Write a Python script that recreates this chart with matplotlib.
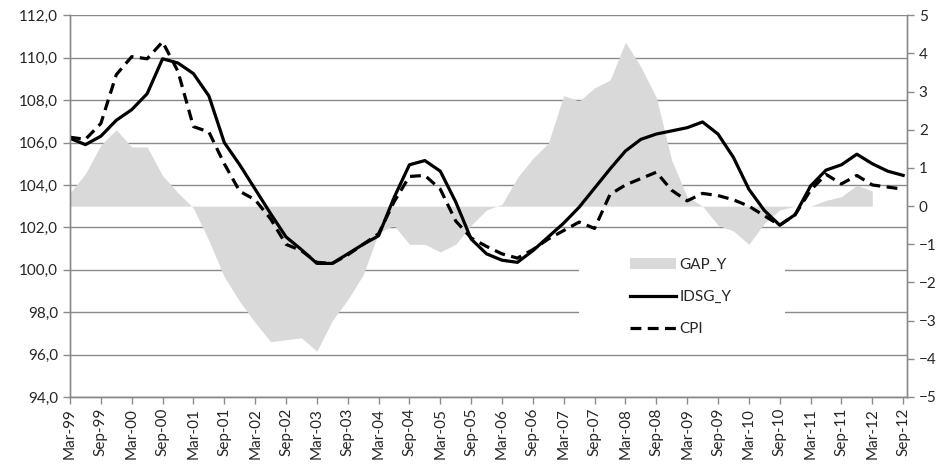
import numpy as np
import matplotlib
matplotlib.use("Agg")
import matplotlib.pyplot as plt
from matplotlib.patches import Rectangle
from matplotlib.ticker import FuncFormatter

# quarterly data, Mar-99 .. Sep-12
idsg_y = [106.2, 105.9, 106.3, 107.05, 107.55, 108.3, 109.95, 109.75, 109.25, 108.2,
          106.0, 104.95, 103.8, 102.65, 101.55, 100.95, 100.3, 100.3, 100.75, 101.2,
          101.6, 103.4, 104.95, 105.15, 104.65, 103.2, 101.45, 100.75, 100.45, 100.35,
          100.9, 101.55, 102.2, 102.95, 103.85, 104.75, 105.6, 106.15, 106.4, 106.55,
          106.7, 106.97, 106.4, 105.3, 103.8, 102.8, 102.1, 102.6, 103.95, 104.7,
          104.95, 105.45, 105.0, 104.65, 104.45]
cpi = [106.25, 106.15, 106.9, 109.2, 110.05, 109.95, 110.75, 109.35, 106.75, 106.5,
       105.0, 103.7, 103.3, 102.4, 101.2, 100.9, 100.35, 100.3, 100.7, 101.2,
       101.7, 103.2, 104.4, 104.45, 103.8, 102.3, 101.5, 101.1, 100.75, 100.55,
       100.95, 101.45, 101.85, 102.25, 101.95, 103.55, 104.0, 104.3, 104.6, 103.75,
       103.25, 103.6, 103.5, 103.3, 103.0, 102.55, 102.1, 102.6, 103.75, 104.5,
       104.05, 104.45, 104.0, 103.9, 103.8]
# output gap ends at Mar-12
gap_y = [0.35, 0.85, 1.6, 2.0, 1.55, 1.55, 0.8, 0.35, -0.05, -0.9,
         -1.85, -2.5, -3.05, -3.55, -3.5, -3.45, -3.8, -3.0, -2.45, -1.8,
         -0.7, -0.5, -1.0, -1.0, -1.2, -1.0, -0.5, -0.1, 0.05, 0.75,
         1.25, 1.65, 2.9, 2.75, 3.1, 3.3, 4.3, 3.65, 2.85, 1.2,
         0.25, 0.0, -0.5, -0.65, -1.0, -0.45, -0.1, 0.0, 0.0, 0.15,
         0.25, 0.55, 0.4]
tick_labels = ['Mar-99', 'Sep-99', 'Mar-00', 'Sep-00', 'Mar-01', 'Sep-01', 'Mar-02',
               'Sep-02', 'Mar-03', 'Sep-03', 'Mar-04', 'Sep-04', 'Mar-05', 'Sep-05',
               'Mar-06', 'Sep-06', 'Mar-07', 'Sep-07', 'Mar-08', 'Sep-08', 'Mar-09',
               'Sep-09', 'Mar-10', 'Sep-10', 'Mar-11', 'Sep-11', 'Mar-12', 'Sep-12']

plt.rcParams['font.family'] = ['Lato', 'DejaVu Sans']
txt = '#262626'
axcol = '#8a8a8a'

x = np.arange(len(idsg_y))
xg = np.arange(len(gap_y))

fig = plt.figure(figsize=(9.4, 4.68), dpi=100)
ax = fig.add_axes([70 / 940, 1 - 397 / 468, 837 / 940, 381.7 / 468])
ax2 = ax.twinx()

ax.set_ylim(94, 112)
ax2.set_ylim(-5, 5)
ax.set_xlim(0, 54.25)

# gap area in secondary-axis units, drawn under the lines
ax.fill_between(xg, gap_y, 0, transform=ax2.transData, color='#d9d9d9',
                linewidth=0, zorder=1, label='GAP_Y')
ax.plot(x, idsg_y, color='black', lw=2.3, zorder=3, label='IDSG_Y')
ax.plot(x, cpi, color='black', lw=2.3, ls=(0, (3.4, 2.0)), zorder=3, label='CPI')

ax.set_yticks(np.arange(94, 113, 2))
ax.yaxis.set_major_formatter(FuncFormatter(lambda v, p: f"{v:.1f}".replace('.', ',')))
ax.grid(axis='y', color=axcol, lw=1.0)
ax.set_axisbelow(True)
ax2.set_yticks(np.arange(-5, 6, 1))

ax.set_xticks(np.arange(0, 55, 2))
ax.set_xticklabels(tick_labels, rotation=90)

for a in (ax, ax2):
    for s in a.spines.values():
        s.set_color(axcol)
        s.set_linewidth(1.0)
    a.spines['top'].set_visible(False)
    a.tick_params(colors=axcol, labelcolor=txt, labelsize=11, length=5, width=1)
ax.tick_params(axis='x', pad=3)

# white legend box hides the gridlines
ax.add_patch(Rectangle((0.608, 0.118), 0.246, 0.278, transform=ax.transAxes,
                       facecolor='white', edgecolor='none', zorder=2))
leg = ax.legend(loc='upper left', bbox_to_anchor=(0.669, 0.365), frameon=False,
                fontsize=11, handlelength=3.0, handletextpad=0.25,
                labelspacing=1.2, borderpad=0, borderaxespad=0)
for t in leg.get_texts():
    t.set_color(txt)

fig.savefig('out.png', dpi=100)
